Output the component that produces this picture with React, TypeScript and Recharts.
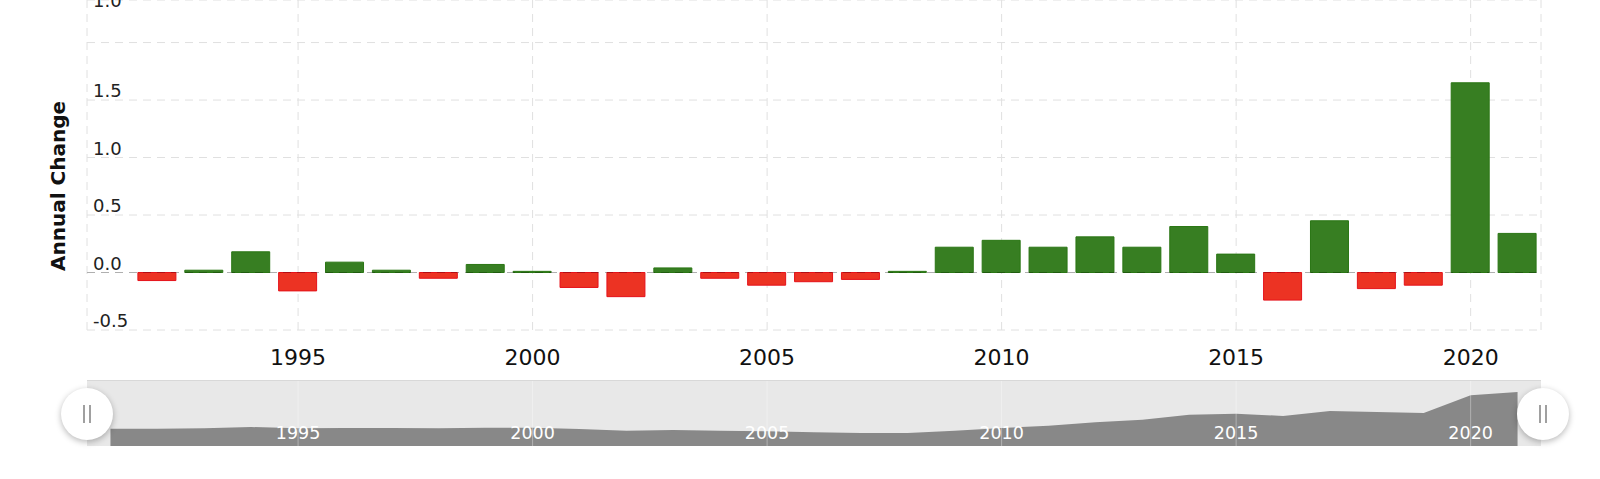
import { BarChart, Bar, XAxis, YAxis, CartesianGrid, Cell, ReferenceLine, AreaChart, Area } from 'recharts';

const years = [1992, 1993, 1994, 1995, 1996, 1997, 1998, 1999, 2000, 2001, 2002, 2003, 2004, 2005, 2006, 2007, 2008, 2009, 2010, 2011, 2012, 2013, 2014, 2015, 2016, 2017, 2018, 2019, 2020, 2021];
const annualChange = [-0.07, 0.02, 0.18, -0.16, 0.09, 0.02, -0.05, 0.07, 0.01, -0.13, -0.21, 0.04, -0.05, -0.11, -0.08, -0.06, 0.01, 0.22, 0.28, 0.22, 0.31, 0.22, 0.4, 0.16, -0.24, 0.45, -0.14, -0.11, 1.65, 0.34];
const xTicks = [1995, 2000, 2005, 2010, 2015, 2020];
const yTicks = [-0.5, 0, 0.5, 1, 1.5, 2];

// navigator overview series (level)
const navYears = [1991, 1992, 1993, 1994, 1995, 1996, 1997, 1998, 1999, 2000, 2001, 2002, 2003, 2004, 2005, 2006, 2007, 2008, 2009, 2010, 2011, 2012, 2013, 2014, 2015, 2016, 2017, 2018, 2019, 2020, 2021];
const navLevel = [1.73, 1.73, 1.77, 1.9, 1.77, 1.8, 1.8, 1.77, 1.83, 1.83, 1.7, 1.53, 1.6, 1.53, 1.47, 1.37, 1.3, 1.3, 1.53, 1.8, 2.03, 2.37, 2.63, 3.13, 3.23, 3.0, 3.5, 3.4, 3.3, 5.07, 5.4];

const GREEN = '#377e22';
const GREEN_EDGE = '#2a7614';
const RED = '#ec3323';
const RED_EDGE = '#e5121a';
const FONT = '"DejaVu Sans", Verdana, sans-serif';

const data = years.map((y, i) => ({ year: y, change: annualChange[i] }));
const navData = navYears.map((y, i) => ({ year: y, level: navLevel[i] }));

const YTick = (props: any) => {
  const { y, payload } = props;
  if (payload.value === 2) return null;
  return (
    <text x={93} y={y - 3} fontSize={18} fill="#222" fontFamily={FONT} textAnchor="start">
      {Number(payload.value).toFixed(1)}
    </text>
  );
};

function Handle({ cx }: { cx: number }) {
  return (
    <div style={{ position: 'absolute', left: cx - 26, top: 388, width: 52, height: 52, borderRadius: '50%', background: '#fff', boxShadow: '0 2px 6px rgba(0,0,0,0.28)' }}>
      <div style={{ position: 'absolute', left: 22, top: 17, width: 2, height: 18, background: '#a0a0a0' }} />
      <div style={{ position: 'absolute', left: 28, top: 17, width: 2, height: 18, background: '#a0a0a0' }} />
    </div>
  );
}

export default function App() {
  return (
    <div style={{ position: 'absolute', left: 0, top: 0, width: 1600, height: 479, background: '#fff', overflow: 'hidden', fontFamily: FONT }}>
      <div style={{ position: 'absolute', left: 0, top: 0 }}>
        <BarChart width={1600} height={380} data={data} margin={{ top: 0, right: 59, left: 86, bottom: 0 }}>
          <CartesianGrid stroke="#e0e0e0" strokeDasharray="8 6" />
          <XAxis dataKey="year" type="number" domain={[1990.5, 2021.5]} ticks={xTicks} axisLine={false} tickLine={false} tickSize={6} tickMargin={13} height={50} tick={{ fill: '#111', fontSize: 22, fontFamily: FONT }} allowDataOverflow />
          <YAxis type="number" domain={[-0.5, 2.37]} ticks={yTicks} width={1} axisLine={false} tickLine={false} tick={<YTick />} allowDataOverflow />
          <Bar dataKey="change" barSize={38} isAnimationActive={false}>
            {data.map((d, i) => (
              <Cell key={i} fill={d.change >= 0 ? GREEN : RED} stroke={d.change >= 0 ? GREEN_EDGE : RED_EDGE} strokeWidth={1} />
            ))}
          </Bar>
          <ReferenceLine y={0} stroke="rgba(0,0,0,0.22)" strokeDasharray="8 6" />
        </BarChart>
      </div>

      <svg style={{ position: 'absolute', left: 0, top: 0 }} width={200} height={20}>
        <text x={93} y={6.5} fontSize={18} fill="#222" fontFamily={FONT}>1.0</text>
      </svg>

      <div style={{ position: 'absolute', left: 58, top: 186, transform: 'translate(-50%, -50%) rotate(-90deg)', fontSize: 20, fontWeight: 'bold', color: '#111', whiteSpace: 'nowrap', fontFamily: FONT }}>
        Annual Change
      </div>

      <div style={{ position: 'absolute', left: 87, top: 380, width: 1454, height: 66, background: '#e8e8e8', borderTop: '1px solid #d8d8d8', boxSizing: 'border-box' }}>
        <AreaChart width={1454} height={65} data={navData} margin={{ top: 0, right: 0, left: 0, bottom: 0 }}>
          <XAxis dataKey="year" type="number" domain={[1990.5, 2021.5]} hide />
          <YAxis type="number" domain={[0, 6.5]} hide />
          <Area type="linear" dataKey="level" stroke="none" fill="#888888" fillOpacity={1} isAnimationActive={false} />
          {xTicks.map((t) => (
            <ReferenceLine key={t} x={t} stroke="rgba(255,255,255,0.35)" strokeWidth={1}
              label={{ value: String(t), position: 'insideBottom', offset: 7, fill: '#fff', fontSize: 17.5, fontFamily: FONT }} />
          ))}
        </AreaChart>
      </div>

      <Handle cx={87} />
      <Handle cx={1543} />
    </div>
  );
}
